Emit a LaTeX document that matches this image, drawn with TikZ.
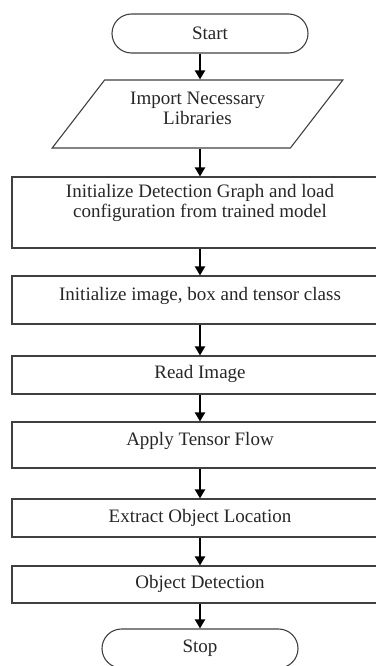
\documentclass[tikz,border=0pt]{standalone}
\usepackage{fontspec}
\setmainfont{Liberation Serif}
\usetikzlibrary{shapes.geometric,shapes.misc,arrows.meta}
\begin{document}
\begin{tikzpicture}[x=1pt,y=-1pt,
  txt/.style={font=\fontsize{19}{20}\selectfont, text=black!85},
  term/.style={txt, rounded rectangle, draw=black!75, line width=1.1pt, minimum width=196pt, minimum height=39pt, inner sep=0pt},
  para/.style={txt, trapezium, trapezium left angle=49.5, trapezium right angle=130.5, trapezium stretches=true, minimum width=291pt, minimum height=68pt, draw=black!75, line width=1.1pt, align=center, inner sep=0pt},
  procbox/.style={txt, rectangle, draw=black!75, line width=1.1pt, minimum width=376pt, inner sep=0pt, align=center},
  oneline/.style={text height=14pt},
  arr/.style={line width=2pt, black, -{Triangle[length=9pt,width=10pt]}}
]
\useasboundingbox (0,0) rectangle (375,666);
\node[term] (start) at (210,33.5) {Start};
\node[para, text depth=12pt] (imp) at (197.5,114) {Import Necessary\\Libraries};
\node[procbox, minimum height=71pt, text depth=24pt] (b1) at (200,212.5) {Initialize Detection Graph and load\\configuration from trained model};
\node[procbox, oneline, minimum height=48pt, text depth=14pt] (b2) at (200,300) {Initialize image, box and tensor class};
\node[procbox, oneline, minimum height=38pt, text depth=8pt] (b3) at (200,375) {Read Image};
\node[procbox, oneline, minimum height=46pt, text depth=14pt] (b4) at (200,445) {Apply Tensor Flow};
\node[procbox, oneline, minimum height=38pt, text depth=6pt] (b5) at (200,518) {Extract Object Location};
\node[procbox, oneline, minimum height=37pt, text depth=6pt] (b6) at (200,584.5) {Object Detection};
\node[term] (stop) at (200,648.5) {Stop};
\draw[arr] (start.south -| b1.north) -- (imp.north -| b1.north);
\draw[arr] (imp.south -| b1.north) -- (b1.north);
\draw[arr] (b1.south) -- (b2.north);
\draw[arr] (b2.south) -- (b3.north);
\draw[arr] (b3.south) -- (b4.north);
\draw[arr] (b4.south) -- (b5.north);
\draw[arr] (b5.south) -- (b6.north);
\draw[arr] (b6.south) -- (stop.north);
\end{tikzpicture}
\end{document}
